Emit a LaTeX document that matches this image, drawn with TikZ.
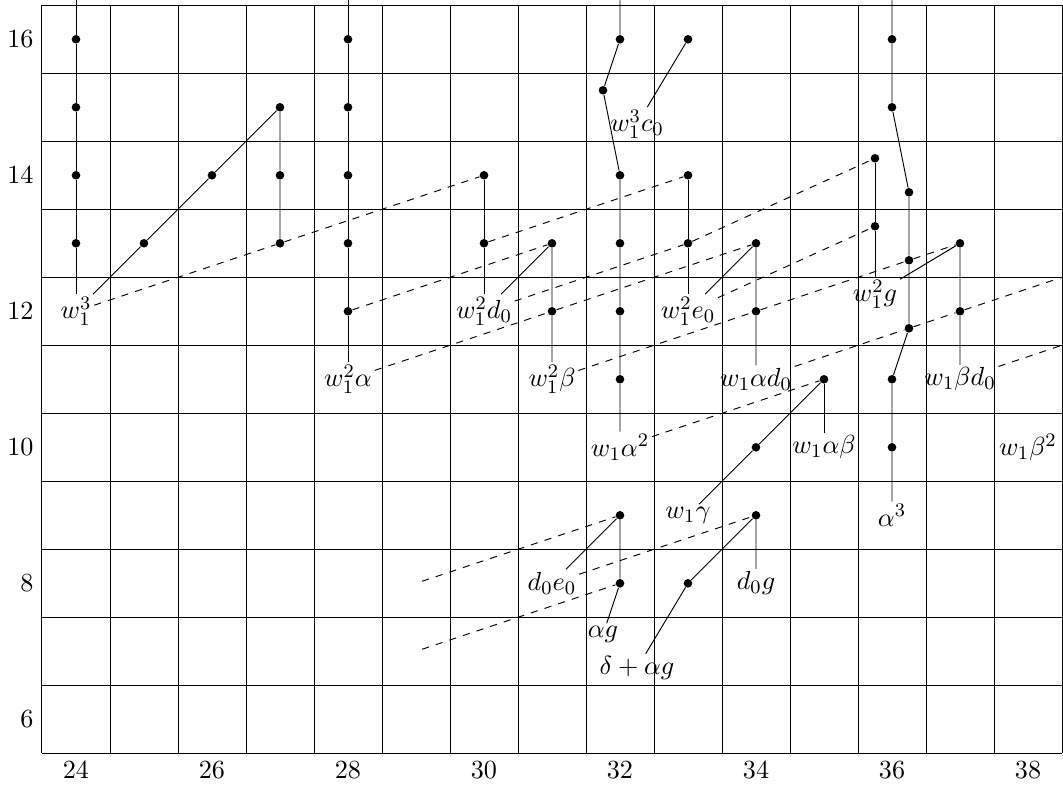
\documentclass[tikz,border=0pt,11pt]{standalone}
\begin{document}
\begin{tikzpicture}[x=1cm,y=1cm,
  dot/.style={circle,fill,inner sep=0pt,minimum size=3.6pt},
  lab/.style={inner sep=1pt},
  axlab/.style={inner sep=3.33pt},
  ext/.style={dashed}]
\useasboundingbox (22.883,5.004) rectangle (38.515,16.578);
% grid
\draw[shift={(0.5,0.5)}] (23,5) grid (38,16);
% axis labels
\foreach \y in {6,8,10,12,14,16} \node[axlab,anchor=east] (ya\y) at (23.5,\y) {$\y$};
\foreach \x in {24,26,28,30,32,34,36,38} \node[axlab,anchor=north] (xa\x) at (\x,5.5) {$\x$};
% free ends
\coordinate (t24) at (24,16.8);
\coordinate (t28) at (28,16.8);
\coordinate (t32) at (32,16.8);
\coordinate (t36) at (36,16.8);
\coordinate (e1) at (40,13);
\coordinate (e2) at (40,12);
\coordinate (f1) at (29.09,8.03);
\coordinate (f2) at (29.09,7.03);
% dots
\foreach \x/\y in {24/16,24/15,24/14,24/13,25/13,26/14,27/15,27/14,27/13,
  28/16,28/15,28/14,28/13,28/12,30/14,30/13,31/13,31/12,
  32/16,32/14,32/13,32/12,32/11,33/16,33/14,33/13,34/13,34/12,
  35/11,34/10,36/16,36/15,36/11,36/10,37/13,37/12,
  32/9,32/8,33/8,34/9}
  \node[dot] (p\x x\y) at (\x,\y) {};
\node[dot] (p32x15) at (31.75,15.25) {};
\node[dot] (q36x14) at (35.75,14.25) {};
\node[dot] (q36x13) at (35.75,13.25) {};
\node[dot] (r36x14) at (36.25,13.75) {};
\node[dot] (r36x13) at (36.25,12.75) {};
\node[dot] (r36x12) at (36.25,11.75) {};
% labels
\node[lab] (lw13) at (24,12) {$w_1^3$};
\node[lab] (lw12a) at (28,11) {$w_1^2\alpha$};
\node[lab] (lw12d0) at (30,12) {$w_1^2d_0$};
\node[lab] (lw12b) at (31,11) {$w_1^2\beta$};
\node[lab] (lw13c0) at (32.25,14.75) {$w_1^3c_0$};
\node[lab] (lw1a2) at (32,10) {$w_1\alpha^2$};
\node[lab] (lw12e0) at (33,12) {$w_1^2e_0$};
\node[lab] (lw1ad0) at (34,11) {$w_1\alpha d_0$};
\node[lab] (lw1ab) at (35,10) {$w_1\alpha\beta$};
\node[lab] (lw1g) at (33,9) {$w_1\gamma$};
\node[lab] (lw12g) at (35.75,12.25) {$w_1^2g$};
\node[lab] (la3) at (36,9) {$\alpha^3$};
\node[lab] (lw1bd0) at (37,11) {$w_1\beta d_0$};
\node[lab] (lw1b2) at (38,10) {$w_1\beta^2$};
\node[lab] (ld0e0) at (31,8) {$d_0e_0$};
\node[lab] (lag) at (31.75,7.25) {$\alpha g$};
\node[lab] (ldag) at (32.25,6.75) {$\delta+\alpha g$};
\node[lab] (ld0g) at (34,8) {$d_0g$};
% solid connectors
\draw (t24) -- (p24x16) -- (p24x15) -- (p24x14) -- (p24x13) -- (lw13);
\draw (lw13) -- (p25x13) -- (p26x14) -- (p27x15) -- (p27x14) -- (p27x13);
\draw (t28) -- (p28x16) -- (p28x15) -- (p28x14) -- (p28x13) -- (p28x12) -- (lw12a);
\draw (p30x14) -- (p30x13) -- (lw12d0);
\draw (lw12d0) -- (p31x13) -- (p31x12) -- (lw12b);
\draw (t32) -- (p32x16) -- (p32x15) -- (p32x14) -- (p32x13) -- (p32x12) -- (p32x11) -- (lw1a2);
\draw (p33x16) -- (lw13c0);
\draw (p33x14) -- (p33x13) -- (lw12e0);
\draw (lw12e0) -- (p34x13) -- (p34x12) -- (lw1ad0);
\draw (p35x11) -- (lw1ab);
\draw (lw1g) -- (p34x10) -- (p35x11);
\draw (t36) -- (p36x16) -- (p36x15) -- (r36x14) -- (r36x13) -- (r36x12) -- (p36x11) -- (p36x10) -- (la3);
\draw (q36x14) -- (q36x13) -- (lw12g);
\draw (lw12g) -- (p37x13) -- (p37x12) -- (lw1bd0);
\draw (ld0e0) -- (p32x9) -- (p32x8) -- (lag);
\draw (ldag) -- (p33x8) -- (p34x9) -- (ld0g);
% dashed connectors
\draw[ext] (lw13) -- (p27x13) -- (p30x14);
\draw[ext] (p28x12) -- (p31x13);
\draw[ext] (p30x13) -- (p33x14);
\draw[ext] (lw12a) -- (p31x12) -- (p34x13);
\draw[ext] (lw12d0) -- (p33x13);
\draw[ext] (p33x13) -- (q36x14);
\draw[ext] (lw12e0) -- (q36x13);
\draw[ext] (lw12b) -- (p34x12) -- (r36x13) -- (p37x13);
\draw[ext] (lw1ad0) -- (r36x12) -- (p37x12) -- (e1);
\draw[ext] (lw1bd0) -- (e2);
\draw[ext] (lw1a2) -- (p35x11);
\draw[ext] (f1) -- (p32x9);
\draw[ext] (f2) -- (p32x8);
\draw[ext] (ld0e0) -- (p34x9);
\end{tikzpicture}
\end{document}
